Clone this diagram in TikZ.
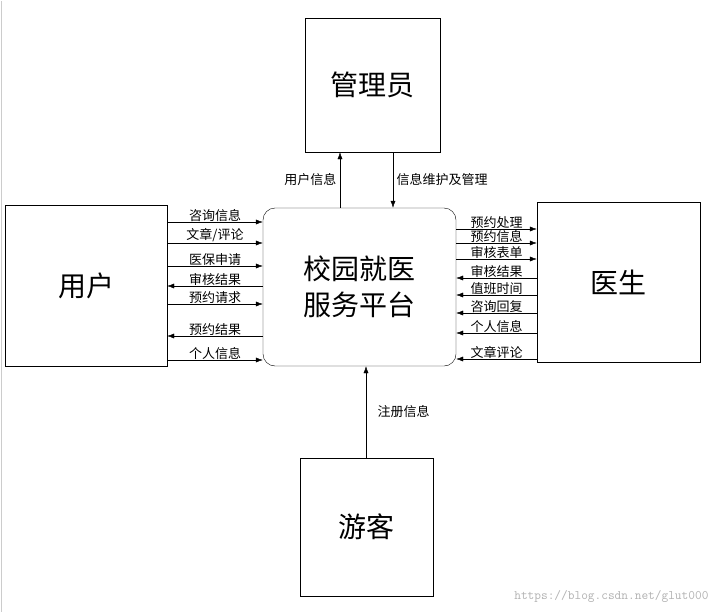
\documentclass[tikz,border=0pt]{standalone}
\usepackage{fontspec}
\setmainfont{Noto Sans CJK SC}
\usetikzlibrary{arrows.meta}
\begin{document}
\begin{tikzpicture}[x=1pt,y=-1pt,
  ent/.style={draw,thin,inner sep=0pt,font=\fontsize{28}{32}\selectfont},
  flow/.style={-{Latex[length=7pt,width=5pt]},thin},
  lab/.style={font=\fontsize{13}{14}\selectfont,inner sep=0.5pt,anchor=south}]
\useasboundingbox (0,0) rectangle (720,613);
\fill[white] (0,0) rectangle (720,613);
\draw[gray!40] (1,1)--(1,612);
\node[ent,minimum width=135pt,minimum height=134pt] (adm) at (372.5,85) {管理员};
\node[ent,minimum width=162pt,minimum height=161pt] (usr) at (86,285.5) {用户};
\node[ent,minimum width=163pt,minimum height=160pt] (doc) at (618.5,282) {医生};
\node[ent,minimum width=133pt,minimum height=138pt] (vis) at (366.5,527) {游客};
\node[ent,rounded corners=12pt,minimum width=193pt,minimum height=158pt,align=center,font=\fontsize{28}{36}\selectfont] (ctr) at (359.5,287) {校园就医\\服务平台};
% top
\draw[flow] (ctr.north -| 340,0) -- (adm.south -| 340,0) node[midway,left,font=\fontsize{13}{14}\selectfont] {用户信息};
\draw[flow] (adm.south -| 393,0) -- (ctr.north -| 393,0) node[midway,right,font=\fontsize{13}{14}\selectfont] {信息维护及管理};
\draw[flow] (vis.north -| 366,0) -- (ctr.south -| 366,0) node[midway,right,xshift=8pt,font=\fontsize{13}{14}\selectfont] {注册信息};
% left
\foreach \y/\t/\d in {222/咨询信息/1,243/{文章/评论}/1,266/医保申请/1,286/审核结果/0,304/预约请求/1,336/预约结果/0,360/个人信息/1}{
  \ifnum\d=1
    \draw[flow] (usr.east |- 0,\y) -- (ctr.west |- 0,\y) node[lab,midway] {\t};
  \else
    \draw[flow] (ctr.west |- 0,\y) -- (usr.east |- 0,\y) node[lab,midway] {\t};
  \fi}
% right
\foreach \y/\t/\d in {229/预约处理/1,243/预约信息/1,259/审核表单/1,278/审核结果/0,295/值班时间/0,313/咨询回复/0,333/个人信息/0,359/文章评论/0}{
  \ifnum\d=1
    \draw[flow] (ctr.east |- 0,\y) -- (doc.west |- 0,\y) node[lab,midway,inner sep=0pt] {\t};
  \else
    \draw[flow] (doc.west |- 0,\y) -- (ctr.east |- 0,\y) node[lab,midway,inner sep=0pt] {\t};
  \fi}
\node[text=gray!60,font=\ttfamily\fontsize{13}{14}\selectfont,anchor=east] (wm) at (712,596) {https://blog.csdn.net/glut000};
\end{tikzpicture}
\end{document}
